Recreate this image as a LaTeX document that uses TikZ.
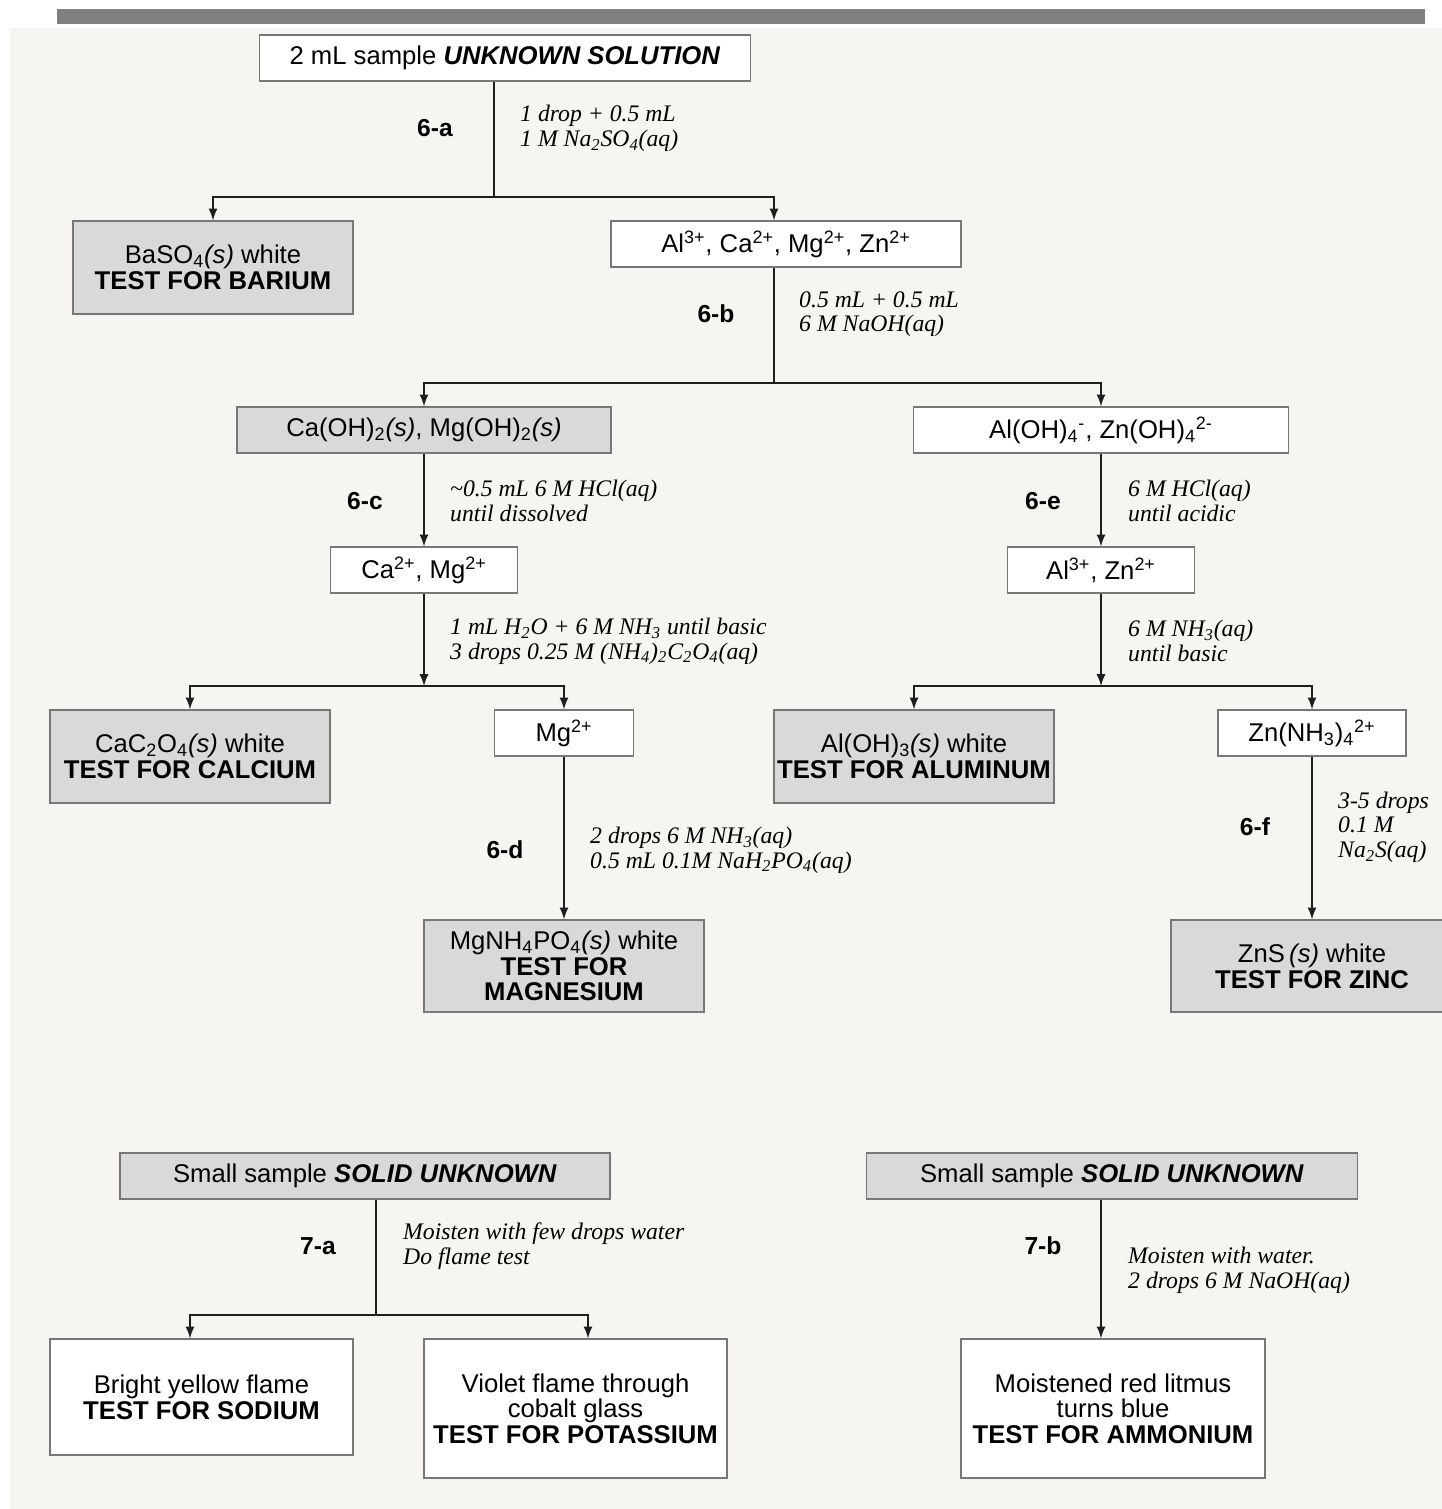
\documentclass[tikz,border=0pt]{standalone}
\usepackage{fontspec}
\setmainfont{Liberation Serif}
\setsansfont{Liberation Sans}
\usepackage[dvipsnames]{xcolor}
\definecolor{PAPERcolor}{HTML}{f6f5f1}
\definecolor{BARcolor}{HTML}{7f7f7f}
\definecolor{PPTcolor}{HTML}{d9d9d9}
\definecolor{EDGEcolor}{HTML}{777777}
\definecolor{LINEcolor}{HTML}{1e1e1e}
\usepackage{tikz}
\usetikzlibrary{calc}
\newcommand{\sbs}[1]{\textsubscript{#1}}
\newcommand{\sps}[1]{\textsuperscript{#1}}

\begin{document}
\begin{tikzpicture}[
    x=0.02cm, y=-0.02cm,
    every node/.style={font=\sffamily\fontsize{14.6}{14.6}\selectfont},
    ionbox/.style={draw=EDGEcolor, line width=0.8pt, fill=white, align=center, inner sep=0pt},
    pptbox/.style={ionbox, fill=PPTcolor},
    stepname/.style={font=\sffamily\bfseries\fontsize{14}{14}\selectfont},
    reagent/.style={anchor=west, align=left, font=\rmfamily\itshape\fontsize{13.5}{14}\selectfont},
    flow/.style={line width=1.3pt, color=LINEcolor},
    arr/.style={flow, -latex},
]
    \useasboundingbox (0,0) rectangle (1442,1509);
    % paper
    \fill [PAPERcolor] (10,28) rectangle (1442,1509);
    \fill [BARcolor] (57,9) rectangle (1425,24);

    % junctions
    \coordinate (ja) at (494,197);
    \coordinate (jb) at (774,383);
    \coordinate (jc) at (424,686);
    \coordinate (je) at (1101,686);
    \coordinate (jg) at (376,1315);

    % solution part
    \node (sol) [ionbox, minimum width=9.82cm, minimum height=0.92cm] at (505,58) {2 mL sample \textbf{\textit{UNKNOWN SOLUTION}}};
    \node (barium) [pptbox, minimum width=5.6cm, minimum height=1.86cm] at (213,267.5) {BaSO\sbs{4}\textit{(s)} white\\\textbf{TEST FOR BARIUM}};
    \node (ions4) [ionbox, minimum width=7cm, minimum height=0.92cm] at (786,244) {Al\sps{3+}, Ca\sps{2+}, Mg\sps{2+}, Zn\sps{2+}};
    \node (hydrox) [pptbox, minimum width=7.48cm, minimum height=0.92cm] at (424,430) {Ca(OH)\sbs{2}\textit{(s)}, Mg(OH)\sbs{2}\textit{(s)}};
    \node (alzn) [ionbox, minimum width=7.5cm, minimum height=0.92cm] at (1101,430) {Al(OH)\sbs{4}\sps{-}, Zn(OH)\sbs{4}\sps{2-}};
    \node (camg) [ionbox, minimum width=3.74cm, minimum height=0.92cm] at (424,570) {Ca\sps{2+}, Mg\sps{2+}};
    \node (alzn2) [ionbox, minimum width=3.74cm, minimum height=0.92cm] at (1101,570) {Al\sps{3+}, Zn\sps{2+}};
    \node (calcium) [pptbox, minimum width=5.6cm, minimum height=1.86cm] at (190,756.5) {CaC\sbs{2}O\sbs{4}\textit{(s)} white\\\textbf{TEST FOR CALCIUM}};
    \node (mg) [ionbox, minimum width=2.78cm, minimum height=0.92cm] at (564,733) {Mg\sps{2+}};
    \node (aluminum) [pptbox, minimum width=5.6cm, minimum height=1.86cm] at (914,756.5) {Al(OH)\sbs{3}\textit{(s)} white\\\textbf{TEST FOR ALUMINUM}};
    \node (znnh3) [ionbox, minimum width=3.76cm, minimum height=0.92cm] at (1312,733) {Zn(NH\sbs{3})\sbs{4}\sps{2+}};
    \node (magnesium) [pptbox, minimum width=5.6cm, minimum height=1.84cm] at (564,966) {MgNH\sbs{4}PO\sbs{4}\textit{(s)} white\\\textbf{TEST FOR}\\\textbf{MAGNESIUM}};
    \node (zinc) [pptbox, minimum width=5.64cm, minimum height=1.84cm] at (1312,966) {ZnS\,\textit{(s)} white\\\textbf{TEST FOR ZINC}};

    % solid part
    \node (solid1) [pptbox, minimum width=9.8cm, minimum height=0.92cm] at (365,1176) {Small sample \textbf{\textit{SOLID UNKNOWN}}};
    \node (solid2) [pptbox, minimum width=9.82cm, minimum height=0.92cm] at (1112,1176) {Small sample \textbf{\textit{SOLID UNKNOWN}}};
    \node (sodium) [ionbox, minimum width=6.06cm, minimum height=2.32cm] at (201.5,1397) {Bright yellow flame\\\textbf{TEST FOR SODIUM}};
    \node (potassium) [ionbox, minimum width=6.06cm, minimum height=2.78cm] at (575.5,1408.5) {Violet flame through\\cobalt glass\\\textbf{TEST FOR POTASSIUM}};
    \node (ammonium) [ionbox, minimum width=6.08cm, minimum height=2.78cm] at (1113,1408.5) {Moistened red litmus\\turns blue\\\textbf{TEST FOR AMMONIUM}};

    % step names
    \node (stepa) [stepname] at (435,128) {6-a};
    \node (stepb) [stepname] at (716,314) {6-b};
    \node (stepc) [stepname] at (365,501) {6-c};
    \node (stepd) [stepname] at (505,850) {6-d};
    \node (stepe) [stepname] at (1043,501) {6-e};
    \node (stepf) [stepname] at (1255,827) {6-f};
    \node (stepg) [stepname] at (318,1246) {7-a};
    \node (steph) [stepname] at (1043,1246) {7-b};

    % reagents
    \node (notea) [reagent] at (514,128.5) {1 drop + 0.5 mL\\1 M Na\sbs{2}SO\sbs{4}(aq)};
    \node (noteb) [reagent] at (793,314) {0.5 mL + 0.5 mL\\6 M NaOH(aq)};
    \node (notec) [reagent] at (444,501) {\textasciitilde 0.5 mL 6 M HCl(aq)\\until dissolved};
    \node (notec2) [reagent] at (444,641) {1 mL H\sbs{2}O + 6 M NH\sbs{3} until basic\\3 drops 0.25 M (NH\sbs{4})\sbs{2}C\sbs{2}O\sbs{4}(aq)};
    \node (noted) [reagent] at (584,850) {2 drops 6 M NH\sbs{3}(aq)\\0.5 mL 0.1M NaH\sbs{2}PO\sbs{4}(aq)};
    \node (notee) [reagent] at (1122,501) {6 M HCl(aq)\\until acidic};
    \node (notee2) [reagent] at (1122,641) {6 M NH\sbs{3}(aq)\\until basic};
    \node (notef) [reagent] at (1332,827) {3-5 drops\\0.1 M\\Na\sbs{2}S(aq)};
    \node (noteg) [reagent] at (397,1246) {Moisten with few drops water\\Do flame test};
    \node (noteh) [reagent] at (1122,1270) {Moisten with water.\\2 drops 6 M NaOH(aq)};

    % connectors
    \draw [flow] (sol.south -| ja) -- (ja);
    \draw [arr] (ja) -| (barium);
    \draw [arr] (ja) -| (ions4.north -| jb);
    \draw [flow] (ions4.south -| jb) -- (jb);
    \draw [arr] (jb) -| (hydrox);
    \draw [arr] (jb) -| (alzn);
    \draw [arr] (hydrox) -- (camg);
    \draw [arr] (alzn) -- (alzn2);
    \draw [arr] (camg.south -| jc) -- (jc);
    \draw [arr] (jc) -| (calcium);
    \draw [arr] (jc) -| (mg);
    \draw [arr] (alzn2.south -| je) -- (je);
    \draw [arr] (je) -| (aluminum);
    \draw [arr] (je) -| (znnh3);
    \draw [arr] (mg) -- (magnesium);
    \draw [arr] (znnh3) -- (zinc);
    \draw [flow] (solid1.south -| jg) -- (jg);
    \draw [arr] (jg) -| ([xshift=-0.23cm]sodium.north);
    \draw [arr] (jg) -| ([xshift=0.25cm]potassium.north);
    \draw [arr] (solid2.south -| je) -- (ammonium.north -| je);
\end{tikzpicture}
\end{document}
